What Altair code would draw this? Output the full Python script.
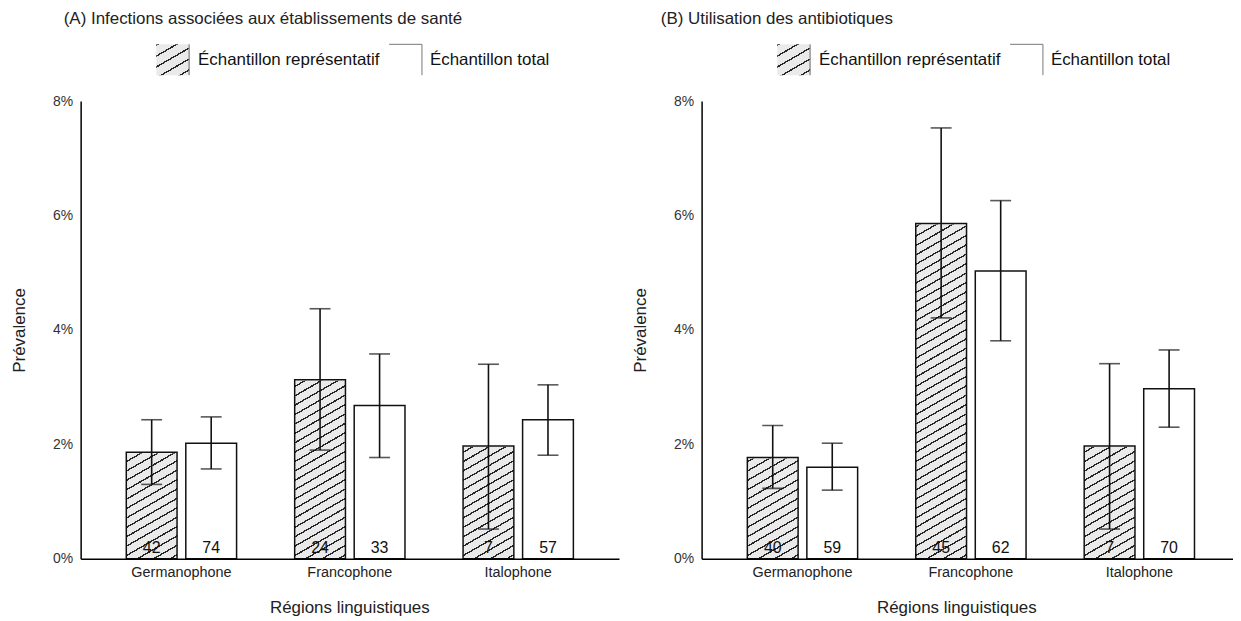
import math
import altair as alt
import pandas as pd

regions = ["Germanophone", "Francophone", "Italophone"]
samples = ["Échantillon représentatif", "Échantillon total"]

# Panel A : infections associées aux établissements de santé (%)
a_rep_val = [1.86, 3.13, 1.97]
a_rep_lo = [1.30, 1.90, 0.52]
a_rep_hi = [2.43, 4.37, 3.40]
a_rep_n = [42, 24, 7]
a_tot_val = [2.02, 2.68, 2.43]
a_tot_lo = [1.57, 1.77, 1.81]
a_tot_hi = [2.48, 3.58, 3.04]
a_tot_n = [74, 33, 57]

# Panel B : utilisation des antibiotiques (%)
b_rep_val = [1.77, 5.86, 1.97]
b_rep_lo = [1.23, 4.21, 0.52]
b_rep_hi = [2.33, 7.53, 3.41]
b_rep_n = [40, 45, 7]
b_tot_val = [1.60, 5.03, 2.97]
b_tot_lo = [1.20, 3.81, 2.30]
b_tot_hi = [2.02, 6.26, 3.65]
b_tot_n = [59, 62, 70]

y_ticks = [0, 2, 4, 6, 8]
y_max = 8

FONT = "Liberation Sans"
PLOT_H = 460


def make_df(rv, rl, rh, rn, tv, tl, th, tn):
    rows = []
    for i, r in enumerate(regions):
        rows.append(dict(region=r, sample=samples[0], value=rv[i], lo=rl[i], hi=rh[i], n=rn[i]))
        rows.append(dict(region=r, sample=samples[1], value=tv[i], lo=tl[i], hi=th[i], n=tn[i]))
    return pd.DataFrame(rows)


def hatch(W, H, spacing=9.5, angle=30.0, lw=1.4, light="#eaeaea", dark="#262626"):
    th = math.radians(angle)
    nx, ny = math.sin(th), math.cos(th)
    L = W * nx + H * ny
    A, B = W * nx / L, H * ny / L
    s = A * A + B * B
    x2, y2 = A / s, B / s
    p = spacing * math.cos(th)
    stops = []
    k = 0
    while k * p < L:
        o0 = k * p / L
        o1 = min(1.0, (k * p + lw) / L)
        o2 = min(1.0, (k + 1) * p / L)
        stops += [
            {"offset": o0, "color": dark},
            {"offset": o1, "color": dark},
            {"offset": o1, "color": light},
            {"offset": o2, "color": light},
        ]
        k += 1
    return {"gradient": "linear", "x1": 0, "y1": 0, "x2": x2, "y2": y2, "stops": stops}


def panel(df, title, title_dx, xtitle_x, width, po, align):
    base = alt.Chart(df)
    xenc = alt.X(
        "region:N",
        sort=regions,
        scale=alt.Scale(paddingInner=0.345, paddingOuter=po, align=align),
        axis=alt.Axis(
            title="Régions linguistiques", ticks=False, labelAngle=0, labelFontSize=14.5,
            labelPadding=7, labelColor="#222222", labelFont=FONT,
            domainColor="#000000", domainWidth=1.5, titleFontSize=17, titleFont=FONT,
            titleFontWeight="normal", titleColor="#222222", titleX=xtitle_x, titleY=49,
            titleBaseline="middle", zindex=1,
        ),
    )
    xo = alt.XOffset("sample:N", sort=samples,
                     scale=alt.Scale(domain=samples, paddingInner=0.147, paddingOuter=0))
    yscale = alt.Scale(domain=[0, y_max], nice=False)
    yaxis = alt.Axis(
        title="Prévalence", values=y_ticks, labelExpr="datum.value + '%'", ticks=False,
        grid=False, labelFontSize=14, labelPadding=8, labelColor="#333333", labelFont=FONT,
        domainColor="#000000", domainWidth=1.5, titleFontSize=17, titleFont=FONT,
        titleFontWeight="normal", titleColor="#222222", titleX=-61, titleY=PLOT_H / 2,
        titleBaseline="middle", titleAlign="center", titleAngle=270, zindex=1,
    )
    rep = base.transform_filter(alt.datum.sample == samples[0])
    tot = base.transform_filter(alt.datum.sample == samples[1])

    hatch_layer = rep.transform_calculate(top=str(y_max - 0.05)).mark_bar(
        fill=hatch(51, PLOT_H), strokeWidth=0
    ).encode(x=xenc, xOffset=xo, y=alt.Y("top:Q", scale=yscale, axis=yaxis))
    cover = rep.transform_calculate(top=str(y_max)).mark_bar(
        fill="white", stroke="white", strokeWidth=2
    ).encode(x=alt.X("region:N", sort=regions), xOffset=xo,
             y=alt.Y("value:Q", scale=yscale), y2="top:Q")
    rep_out = rep.mark_bar(fill="white", fillOpacity=0, stroke="#111111", strokeWidth=1.5).encode(
        x=alt.X("region:N", sort=regions), xOffset=xo, y=alt.Y("value:Q", scale=yscale))
    tot_bar = tot.mark_bar(fill="white", stroke="#111111", strokeWidth=1.5).encode(
        x=alt.X("region:N", sort=regions), xOffset=xo, y=alt.Y("value:Q", scale=yscale))
    err = base.mark_rule(color="#111111", strokeWidth=1.6).encode(
        x=alt.X("region:N", sort=regions), xOffset=xo,
        y=alt.Y("lo:Q", scale=yscale), y2="hi:Q")
    cap_hi = base.mark_tick(color="#111111", size=21, thickness=1.6).encode(
        x=alt.X("region:N", sort=regions), xOffset=xo, y=alt.Y("hi:Q", scale=yscale))
    cap_lo = base.mark_tick(color="#111111", size=21, thickness=1.6).encode(
        x=alt.X("region:N", sort=regions), xOffset=xo, y=alt.Y("lo:Q", scale=yscale))
    counts = base.mark_text(fontSize=16, font=FONT, color="#111111", baseline="middle",
                            dy=-11).encode(
        x=alt.X("region:N", sort=regions), xOffset=xo, y=alt.datum(0), text="n:Q")

    tdf = pd.DataFrame({"t": [title]})
    title_layer = alt.Chart(tdf).mark_text(
        align="left", baseline="middle", fontSize=17, font=FONT, color="#222222"
    ).encode(x=alt.value(title_dx), y=alt.value(-82), text="t:N")

    ldf0 = pd.DataFrame({"s": [samples[0]]})
    ldf1 = pd.DataFrame({"s": [samples[1]]})
    sw_rep = alt.Chart(ldf0).mark_rect(fill=hatch(33, 31, spacing=11), strokeWidth=0).encode(
        x=alt.value(76), x2=alt.value(109), y=alt.value(-57), y2=alt.value(-26))
    sw_rep_edge = alt.Chart(ldf0).mark_rule(color="#666666", strokeWidth=1).encode(
        x=alt.value(109), y=alt.value(-57), y2=alt.value(-26))
    sw_tot_top = alt.Chart(ldf1).mark_rule(color="#777777", strokeWidth=1).encode(
        x=alt.value(310), x2=alt.value(343), y=alt.value(-57))
    sw_tot_edge = alt.Chart(ldf1).mark_rule(color="#777777", strokeWidth=1).encode(
        x=alt.value(343), y=alt.value(-57), y2=alt.value(-26))
    lt0 = alt.Chart(ldf0).mark_text(align="left", baseline="middle", fontSize=17, font=FONT,
                                    color="#111111").encode(
        x=alt.value(118), y=alt.value(-41), text="s:N")
    lt1 = alt.Chart(ldf1).mark_text(align="left", baseline="middle", fontSize=17, font=FONT,
                                    color="#111111").encode(
        x=alt.value(351), y=alt.value(-41), text="s:N")

    return alt.layer(
        hatch_layer, cover, rep_out, tot_bar, err, cap_hi, cap_lo, counts,
        title_layer, sw_rep, sw_rep_edge, sw_tot_top, sw_tot_edge, lt0, lt1,
    ).properties(width=width, height=PLOT_H)


dfA = make_df(a_rep_val, a_rep_lo, a_rep_hi, a_rep_n, a_tot_val, a_tot_lo, a_tot_hi, a_tot_n)
dfB = make_df(b_rep_val, b_rep_lo, b_rep_hi, b_rep_n, b_tot_val, b_tot_lo, b_tot_hi, b_tot_n)

pA = panel(dfA, "(A) Infections associées aux établissements de santé", -17, 270, 541, 0.271, 0.5)
pB = panel(dfB, "(B) Utilisation des antibiotiques", -41, 256, 534, 0.25, 0.543)

chart = alt.hconcat(pA, pB, spacing=83, bounds="flush").properties(
    padding={"left": 3, "top": 1, "right": 0, "bottom": 0},
    background="white",
).configure_view(strokeWidth=0)

chart.save("out.html", embed_options={"renderer": "svg", "actions": False})
